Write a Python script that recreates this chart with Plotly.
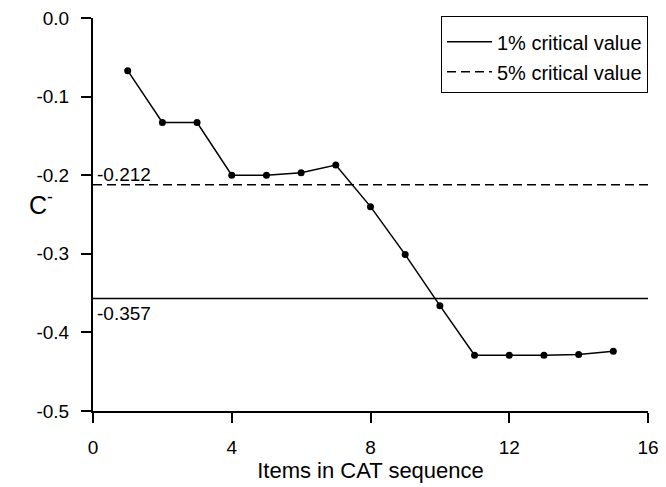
import plotly.graph_objects as go

items = list(range(1, 16))
c_minus = [-0.067, -0.133, -0.133, -0.200, -0.200, -0.197, -0.187, -0.240,
           -0.301, -0.366, -0.429, -0.429, -0.429, -0.428, -0.424]
crit_1 = -0.357
crit_5 = -0.212
x_range = [0, 16]
x_ticks = [0, 4, 8, 12, 16]
y_ticks = [0.0, -0.1, -0.2, -0.3, -0.4, -0.5]
y_ticklabels = ["0.0", "-0.1", "-0.2", "-0.3", "-0.4", "-0.5"]

font = "Liberation Sans, Arial, sans-serif"

fig = go.Figure()
fig.add_trace(go.Scatter(x=items, y=c_minus, mode="lines+markers",
                         line=dict(color="black", width=1.5),
                         marker=dict(color="black", size=7),
                         showlegend=False))
fig.add_trace(go.Scatter(x=x_range, y=[crit_1, crit_1], mode="lines",
                         line=dict(color="black", width=1.5),
                         name="1% critical value", legendgroup="a"))
fig.add_trace(go.Scatter(x=x_range, y=[crit_5, crit_5], mode="lines",
                         line=dict(color="black", width=1.5, dash="9px,5px"),
                         name="5% critical value", legendgroup="b"))

fig.add_annotation(x=0.05, y=crit_5, xref="x", yref="y", text="-0.212",
                   showarrow=False, xanchor="left", yanchor="bottom",
                   yshift=-2, font=dict(size=19, color="black", family=font))
fig.add_annotation(x=0.05, y=crit_1, xref="x", yref="y", text="-0.357",
                   showarrow=False, xanchor="left", yanchor="top",
                   yshift=-2, font=dict(size=19, color="black", family=font))
fig.add_annotation(x=-0.119, y=0.53, xref="paper", yref="paper", text="C<sup>-</sup>",
                   showarrow=False, xanchor="left", yanchor="middle",
                   font=dict(size=25, color="black", family=font))

fig.update_layout(
    width=658, height=479,
    margin=dict(l=85, r=18, t=10, b=76, autoexpand=False),
    paper_bgcolor="white", plot_bgcolor="white",
    font=dict(family=font, color="black", size=19),
    legend=dict(x=1.0, y=1.005, xanchor="right", yanchor="top",
                bordercolor="black", borderwidth=1, bgcolor="white",
                font=dict(size=20), itemwidth=45, tracegroupgap=1,
                title=dict(text=" ", font=dict(size=4))),
    xaxis=dict(range=x_range, tickvals=x_ticks, showgrid=False, zeroline=False,
               showline=True, linecolor="black", linewidth=2,
               ticks="outside", ticklen=10, tickwidth=2, tickcolor="black",
               ticklabelstandoff=8, ticklabeloverflow="allow",
               title=dict(text="Items in CAT sequence", font=dict(size=22), standoff=4),
               tickfont=dict(size=19)),
    yaxis=dict(range=[-0.5, 0.0], tickvals=y_ticks, ticktext=y_ticklabels,
               showgrid=False, zeroline=False,
               showline=True, linecolor="black", linewidth=2,
               ticks="outside", ticklen=10, tickwidth=2, tickcolor="black",
               ticklabelstandoff=8, ticklabeloverflow="allow",
               tickfont=dict(size=19)),
)

fig.write_html("out.html")
